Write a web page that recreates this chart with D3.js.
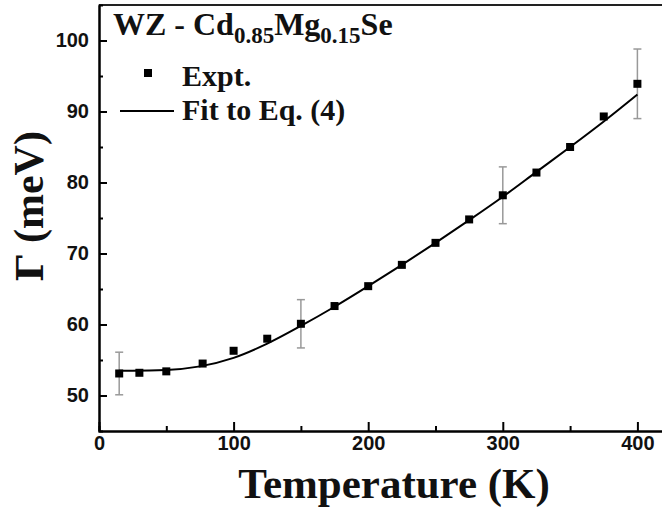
<!DOCTYPE html>
<html>
<head>
<meta charset="utf-8">
<script src="https://cdn.jsdelivr.net/npm/d3@7"></script>
<style>
  body { margin: 0; background: #fff; }
  svg { display: block; }
</style>
</head>
<body>
<div id="chart"></div>
<script>
// Data
const temps = [15, 30, 50, 77, 100, 125, 150, 175, 200, 225, 250, 275, 300, 325, 350, 375, 400];
const gamma = [53.1, 53.2, 53.4, 54.5, 56.3, 58.0, 60.1, 62.6, 65.4, 68.4, 71.5, 74.8, 78.2, 81.4, 85.0, 89.3, 93.9];

// error bars only on a few points
const errTemps = [15, 150, 300, 400];
const errSize = [3.0, 3.4, 4.0, 4.9];

// fitted curve, read at a set of temperatures
const fitTemps = [15, 25, 50, 75, 100, 125, 150, 175, 200, 225, 250, 275, 300, 325, 350, 375, 400];
const fitGamma = [53.5, 53.5, 53.6, 54.1, 55.3, 57.3, 59.8, 62.5, 65.4, 68.4, 71.5, 74.7, 78.0, 81.5, 85.0, 88.6, 92.4];

const xMajor = [0, 100, 200, 300, 400];
const xMinor = [50, 150, 250, 350];
const yMajor = [50, 60, 70, 80, 90, 100];
const yMinor = [55, 65, 75, 85, 95];

const WIDTH = 662, HEIGHT = 512;

let svg = d3.select("#chart").append("svg")
    .attr("width", WIDTH)
    .attr("height", HEIGHT);

// plot runs off the right edge of the picture
let xScale = d3.scaleLinear().domain([0, 420]).range([99, 99 + 420 * 1.346]);
let yScale = d3.scaleLinear().domain([45, 105]).range([431, 5]);

const tickFont = "'Liberation Sans', Arial, sans-serif";
const serif = "'Liberation Serif', 'Times New Roman', serif";

// top frame line
svg.append("line")
    .attr("x1", xScale(0)).attr("x2", WIDTH + 5)
    .attr("y1", yScale(105)).attr("y2", yScale(105))
    .attr("stroke", "#222").attr("stroke-width", 2);

// axes: ticks point inward
function styleAxis(g) {
    g.selectAll("path").attr("stroke", "#000").attr("stroke-width", 2);
    g.selectAll("line").attr("stroke", "#000").attr("stroke-width", 2);
    g.selectAll("text")
        .attr("font-family", tickFont)
        .attr("font-weight", "bold")
        .attr("font-size", 20)
        .attr("fill", "#111");
}

svg.append("g")
    .attr("transform", `translate(0, ${yScale(45)})`)
    .call(d3.axisBottom(xScale).tickValues(xMinor).tickSize(-5).tickFormat(""))
    .call(styleAxis);
svg.append("g")
    .attr("transform", `translate(0, ${yScale(45)})`)
    .call(d3.axisBottom(xScale).tickValues(xMajor).tickSize(-9).tickPadding(5).tickSizeOuter(0))
    .call(styleAxis);

svg.append("g")
    .attr("transform", `translate(${xScale(0)}, 0)`)
    .call(d3.axisLeft(yScale).tickValues(yMinor).tickSize(-4).tickFormat(""))
    .call(styleAxis);
svg.append("g")
    .attr("transform", `translate(${xScale(0)}, 0)`)
    .call(d3.axisLeft(yScale).tickValues(yMajor).tickSize(-8).tickPadding(10).tickSizeOuter(0))
    .call(styleAxis);

// error bars (grey)
const errData = errTemps.map((t, i) => ({ t: t, g: gamma[temps.indexOf(t)], e: errSize[i] }));
let eb = svg.append("g").attr("stroke", "#999").attr("stroke-width", 1.5);
errData.forEach(d => {
    const x = xScale(d.t);
    eb.append("line").attr("x1", x).attr("x2", x)
        .attr("y1", yScale(d.g - d.e)).attr("y2", yScale(d.g + d.e));
    [d.g - d.e, d.g + d.e].forEach(v => {
        eb.append("line").attr("x1", x - 4).attr("x2", x + 4)
            .attr("y1", yScale(v)).attr("y2", yScale(v));
    });
});

// fit line
const fitPts = fitTemps.map((t, i) => ({ x: t, y: fitGamma[i] }));
const lineGenerator = d3.line()
    .x(d => xScale(d.x))
    .y(d => yScale(d.y))
    .curve(d3.curveMonotoneX);
svg.append("path")
    .datum(fitPts)
    .attr("d", lineGenerator)
    .attr("fill", "none")
    .attr("stroke", "#000")
    .attr("stroke-width", 2);

// experimental points
const pts = temps.map((t, i) => ({ x: t, y: gamma[i] }));
svg.selectAll("rect.pt")
    .data(pts)
    .enter()
    .append("rect")
    .attr("class", "pt")
    .attr("x", d => xScale(d.x) - 4)
    .attr("y", d => yScale(d.y) - 4)
    .attr("width", 8)
    .attr("height", 8)
    .attr("fill", "#000");

// title with subscripts
let title = svg.append("text")
    .attr("x", 113).attr("y", 35)
    .attr("font-family", serif)
    .attr("font-weight", "bold")
    .attr("font-size", 32)
    .attr("fill", "#111");
title.append("tspan").text("WZ - Cd");
title.append("tspan").attr("font-size", 23).attr("dy", 8).text("0.85");
title.append("tspan").attr("dy", -8).text("Mg");
title.append("tspan").attr("font-size", 23).attr("dy", 8).text("0.15");
title.append("tspan").attr("dy", -8).text("Se");

// legend
svg.append("rect")
    .attr("x", 144).attr("y", 69).attr("width", 8).attr("height", 8)
    .attr("fill", "#000");
svg.append("text")
    .attr("x", 182).attr("y", 86)
    .attr("font-family", serif).attr("font-weight", "bold").attr("font-size", 30)
    .attr("fill", "#111")
    .text("Expt.");
svg.append("line")
    .attr("x1", 120).attr("x2", 174).attr("y1", 111).attr("y2", 111)
    .attr("stroke", "#000").attr("stroke-width", 2);
svg.append("text")
    .attr("x", 182).attr("y", 120)
    .attr("font-family", serif).attr("font-weight", "bold").attr("font-size", 30)
    .attr("fill", "#111")
    .text("Fit to Eq. (4)");

// axis titles
svg.append("text")
    .attr("x", 394).attr("y", 498)
    .attr("text-anchor", "middle")
    .attr("font-family", serif).attr("font-weight", "bold").attr("font-size", 43)
    .attr("fill", "#111")
    .text("Temperature (K)");

// y title: Gamma and units as separate pieces, reading bottom to top
svg.append("text")
    .attr("transform", "translate(43, 282) rotate(-90)")
    .attr("font-family", "'DejaVu Serif', serif")
    .attr("font-weight", "bold").attr("font-size", 38)
    .attr("fill", "#111")
    .text("\u0393");
svg.append("text")
    .attr("transform", "translate(43, 243) rotate(-90)")
    .attr("font-family", serif)
    .attr("font-weight", "bold").attr("font-size", 42)
    .attr("fill", "#111")
    .text("(meV)");
</script>
</body>
</html>
